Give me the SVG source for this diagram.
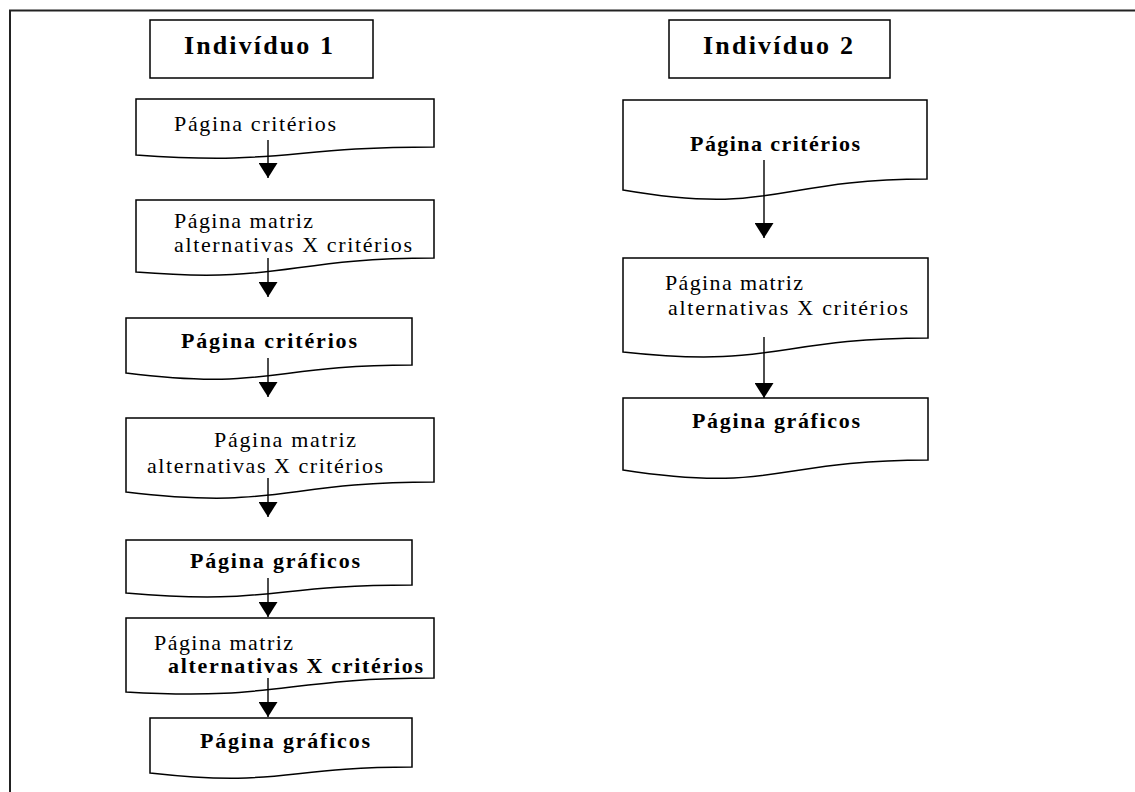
<svg xmlns="http://www.w3.org/2000/svg" width="1135" height="792" viewBox="0 0 1135 792">
<style>
.frame{stroke:#222;stroke-width:2;fill:none}
.box{fill:#fff;stroke:#000;stroke-width:1.5}
.doc{fill:#fff;stroke:#000;stroke-width:1.5;stroke-linejoin:miter}
.t{font-family:"Liberation Serif","Times New Roman",serif;font-size:22px;fill:#000}
.b{font-weight:bold}
.title{font-family:"Liberation Serif","Times New Roman",serif;font-size:26px;font-weight:bold;fill:#000}
.conn{stroke:#000;stroke-width:1.4;fill:none}
</style>
<defs>
<marker id="ah" markerUnits="userSpaceOnUse" markerWidth="16" markerHeight="19" refX="15" refY="9.5" orient="auto">
<path d="M0,0 L15,9.5 L0,19 Z" fill="#000"/>
</marker>
</defs>
<rect width="1135" height="792" fill="#fff"/>
<path class="frame" d="M9,10.5 H1135 M10,10 V792"/>

<g id="ind1">
<rect class="box" x="150" y="20" width="223" height="58"/>
<text class="title" x="184" y="54" textLength="149" lengthAdjust="spacing">Indivíduo 1</text>
</g>
<g id="ind2">
<rect class="box" x="669" y="20" width="221" height="58"/>
<text class="title" x="703" y="54" textLength="150" lengthAdjust="spacing">Indivíduo 2</text>
</g>

<g id="n1">
<path class="doc" d="M136,99 H434 V147 C285,147 285,165.4 136,155 Z"/>
<text class="t" x="174" y="131" textLength="162" lengthAdjust="spacing">Página critérios</text>
</g>
<g id="n2">
<path class="doc" d="M136,200 H434 V258 C285,258 285,284 136,272 Z"/>
<text class="t" x="174" y="228" textLength="139" lengthAdjust="spacing">Página matriz</text>
<text class="t" x="174" y="252" textLength="238" lengthAdjust="spacing">alternativas X critérios</text>
</g>
<g id="n3">
<path class="doc" d="M126,318 H412 V365 C269,365 269,390.8 126,373 Z"/>
<text class="t b" x="181" y="348" textLength="176" lengthAdjust="spacing">Página critérios</text>
</g>
<g id="n4">
<path class="doc" d="M126,418 H434 V482 C280,482 280,510.4 126,492 Z"/>
<text class="t" x="214" y="447" textLength="142" lengthAdjust="spacing">Página matriz</text>
<text class="t" x="147" y="473" textLength="236" lengthAdjust="spacing">alternativas X critérios</text>
</g>
<g id="n5">
<path class="doc" d="M126,540 H412 V585 C269,585 269,605.5 126,593 Z"/>
<text class="t b" x="190" y="568" textLength="170" lengthAdjust="spacing">Página gráficos</text>
</g>
<g id="n6">
<path class="doc" d="M126,618 H434 V678 C280,678 280,701 126,692 Z"/>
<text class="t" x="154" y="650" textLength="139" lengthAdjust="spacing">Página matriz</text>
<text class="t b" x="168" y="673" textLength="255" lengthAdjust="spacing">alternativas X critérios</text>
</g>
<g id="n7">
<path class="doc" d="M150,718 H412 V767 C281,767 281,787.6 150,773 Z"/>
<text class="t b" x="200" y="748" textLength="170" lengthAdjust="spacing">Página gráficos</text>
</g>

<g id="r1">
<path class="doc" d="M623,100 H927 V179 C775,179 775,216 623,190 Z"/>
<text class="t b" x="690" y="151" textLength="170" lengthAdjust="spacing">Página critérios</text>
</g>
<g id="r2">
<path class="doc" d="M623,258 H928 V338 C775.5,338 775.5,368.8 623,352 Z"/>
<text class="t" x="665" y="290" textLength="138" lengthAdjust="spacing">Página matriz</text>
<text class="t" x="668" y="315" textLength="240" lengthAdjust="spacing">alternativas X critérios</text>
</g>
<g id="r3">
<path class="doc" d="M623,398 H928 V460 C775.5,460 775.5,493.5 623,470 Z"/>
<text class="t b" x="692" y="428" textLength="168" lengthAdjust="spacing">Página gráficos</text>
</g>

<g id="connectors">
<line class="conn" x1="268" y1="140" x2="268" y2="178" marker-end="url(#ah)"/>
<line class="conn" x1="268" y1="258" x2="268" y2="297" marker-end="url(#ah)"/>
<line class="conn" x1="268" y1="358" x2="268" y2="397" marker-end="url(#ah)"/>
<line class="conn" x1="268" y1="478" x2="268" y2="517" marker-end="url(#ah)"/>
<line class="conn" x1="268" y1="578" x2="268" y2="617" marker-end="url(#ah)"/>
<line class="conn" x1="268" y1="678" x2="268" y2="717" marker-end="url(#ah)"/>
<line class="conn" x1="764" y1="160" x2="764" y2="238" marker-end="url(#ah)"/>
<line class="conn" x1="764" y1="337" x2="764" y2="398" marker-end="url(#ah)"/>
</g>
</svg>
